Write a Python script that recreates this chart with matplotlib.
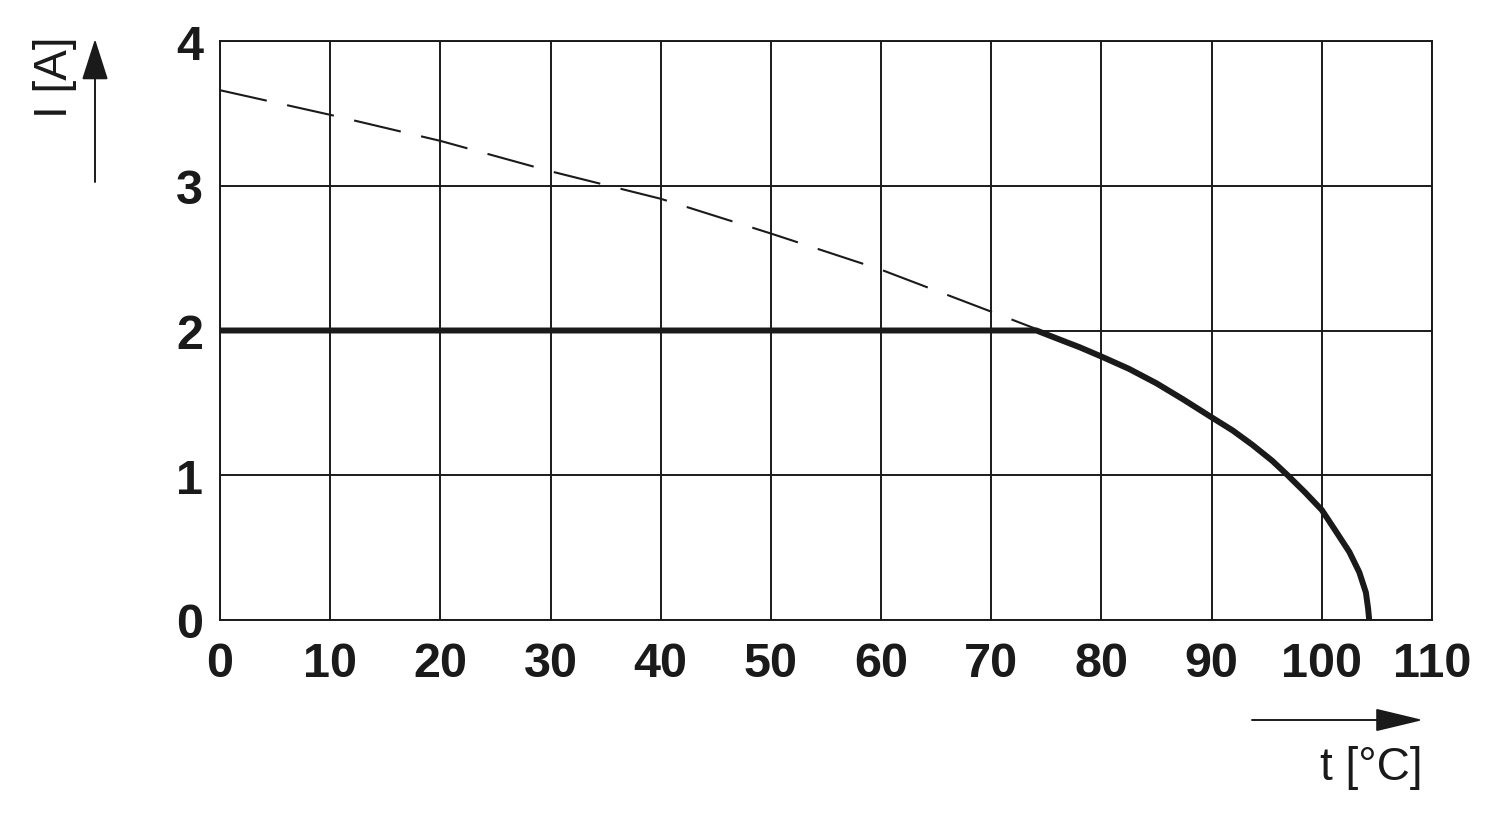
import numpy as np
import matplotlib.pyplot as plt

plt.rcParams['font.family'] = ['Liberation Sans', 'DejaVu Sans']

# derating curve (solid)
t_solid = [0, 74.1, 76.8, 78, 80, 82.5, 85, 87.4, 90, 91.9, 93.7, 95.5, 96.9, 98.5,
           100, 101.3, 102.5, 103.4, 104.0, 104.2, 104.3]
i_solid = [2.0, 2.0, 1.92, 1.885, 1.82, 1.735, 1.635, 1.525, 1.40, 1.31, 1.21, 1.10, 1.0, 0.88,
           0.76, 0.61, 0.47, 0.33, 0.19, 0.08, 0.0]

# dashed curve
t_dash = [0, 10, 20, 30, 40, 50, 60, 70, 74.1]
i_dash = [3.66, 3.49, 3.31, 3.10, 2.91, 2.67, 2.42, 2.13, 2.01]

xticks = list(range(0, 111, 10))
yticks = [0, 1, 2, 3, 4]

fig = plt.figure(figsize=(15, 8.2), dpi=100)
ax = fig.add_axes([220 / 1500, 1 - 621 / 820, (1432 - 220) / 1500, (621 - 42) / 820])

ax.plot(t_dash, i_dash, color='#1a1a1a', lw=1.5, dashes=(23, 10), solid_capstyle='butt')
ax.plot(t_solid, i_solid, color='#1a1a1a', lw=4.3, solid_joinstyle='round', solid_capstyle='butt')

ax.set_xlim(0, 110)
ax.set_ylim(0, 4)
ax.set_xticks(xticks)
ax.set_yticks(yticks)
ax.grid(True, color='#1a1a1a', lw=1.4)
ax.set_axisbelow(True)
for s in ax.spines.values():
    s.set_linewidth(1.4)
    s.set_color('#1a1a1a')
ax.tick_params(length=0, labelsize=35, colors='#1a1a1a')
ax.tick_params(axis='x', pad=15)
ax.tick_params(axis='y', pad=12)
for lab in ax.get_xticklabels() + ax.get_yticklabels():
    lab.set_fontweight('bold')

# axis arrows and labels
ax.annotate('', xy=(95, 820 - 40), xytext=(95, 820 - 183),
            xycoords='figure pixels', textcoords='figure pixels',
            arrowprops=dict(arrowstyle='-|>,head_length=26,head_width=8.3', mutation_scale=1,
                            lw=1.4, color='#1a1a1a', shrinkA=0, shrinkB=0))
fig.text(55, 820 - 77, 'I [A]', transform=None, rotation=90, ha='center', va='center',
         fontsize=33, color='#1a1a1a')

ax.annotate('', xy=(1423, 820 - 721), xytext=(1252, 820 - 721),
            xycoords='figure pixels', textcoords='figure pixels',
            arrowprops=dict(arrowstyle='-|>,head_length=30,head_width=7.2', mutation_scale=1,
                            lw=1.4, color='#1a1a1a', shrinkA=0, shrinkB=0))
fig.text(1423, 820 - 780, 't [°C]', transform=None, ha='right', va='baseline',
         fontsize=33, color='#1a1a1a')

fig.savefig('out.png', dpi=100, facecolor='white')
